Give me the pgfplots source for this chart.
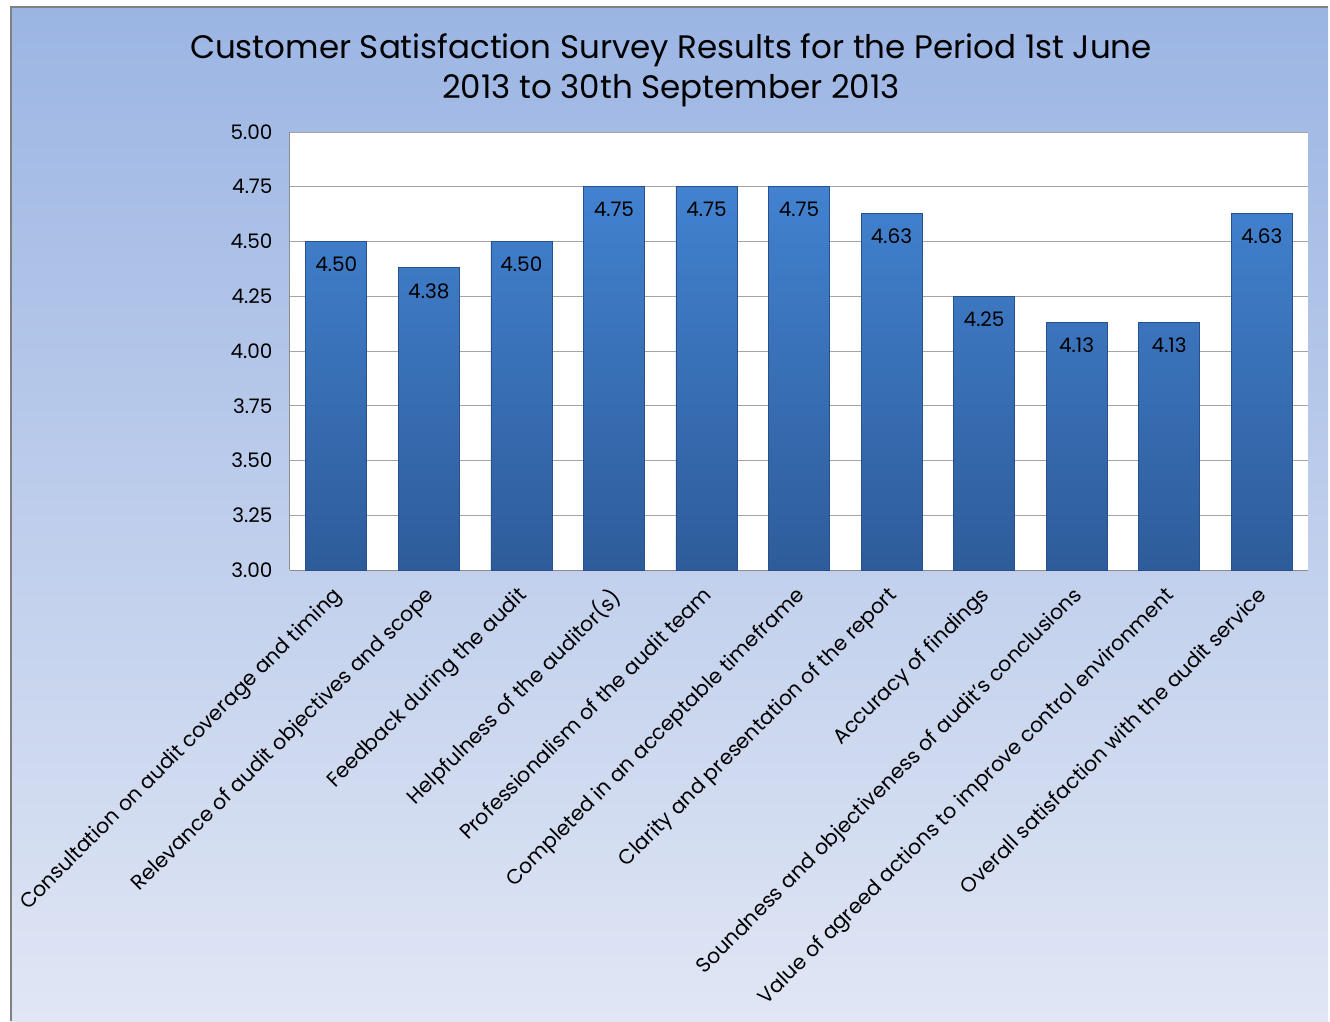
\documentclass[border=0pt]{standalone}
\usepackage{fontspec}
\setmainfont{Poppins}
\usepackage{pgfplots}
\pgfplotsset{compat=1.18}
\definecolor{bgtop}{RGB}{155,181,227}
\definecolor{bgbot}{RGB}{224,230,244}
\definecolor{bartop}{RGB}{66,130,208}
\definecolor{barbot}{RGB}{46,92,154}
\definecolor{baredge}{RGB}{40,80,140}
\definecolor{gridc}{RGB}{165,165,165}
\definecolor{axc}{RGB}{140,140,140}
\begin{document}
\begin{tikzpicture}
\useasboundingbox (-290pt,-451pt) rectangle (1040pt,570pt);
\fill[white] (-290pt,-451pt) rectangle (1040pt,570pt);
\shade[top color=bgtop, bottom color=bgbot] (-279pt,-451pt) rectangle (1038pt,563pt);
\draw[gray, line width=1.5pt] (-279pt,-451pt) -- (-279pt,563pt) -- (1038pt,563pt);
\node[align=center, font=\fontsize{32.5}{40}\selectfont] at (381pt,500pt) {Customer Satisfaction Survey Results for the Period 1st June\\2013 to 30th September 2013};
\begin{axis}[
  at={(0pt,0pt)}, anchor=south west,
  scale only axis, width=1018pt, height=438pt,
  axis background/.style={fill=white},
  ymin=3, ymax=5, ytick={3,3.25,3.5,3.75,4,4.25,4.5,4.75,5},
  xmin=-0.5, xmax=10.5, enlarge x limits=false,
  xtick={0,...,10},
  xticklabels={Consultation on audit coverage and timing,Relevance of audit objectives and scope,Feedback during the audit,Helpfulness of the auditor(s),Professionalism of the audit team,Completed in an acceptable timeframe,Clarity and presentation of the report,Accuracy of findings,Soundness and objectiveness of audit's conclusions,Value of agreed actions to improve control environment,Overall satisfaction with the audit service},
  /pgf/number format/assume math mode=true,
  yticklabel={\pgfmathprintnumber[fixed,fixed zerofill,precision=2]{\tick}},
  yticklabel style={font=\fontsize{20}{24}\selectfont, xshift=-14pt},
  xticklabel style={font=\fontsize{20.6}{24}\selectfont, xshift=-5pt, yshift=-15pt, rotate=45, anchor=north east, inner sep=0pt},
  major tick length=0pt,
  ymajorgrids, grid style={gridc, line width=0.8pt},
  axis x line*=bottom, axis y line*=left,
  axis line style={axc, line width=1pt},
  ybar, bar width=61pt,
  nodes near coords={\pgfmathprintnumber[fixed,fixed zerofill,precision=2]{\pgfplotspointmeta}},
  every node near coord/.append style={font=\fontsize{20}{24}\selectfont, anchor=north, yshift=-12pt, black},
]
\addplot[top color=bartop, bottom color=barbot, draw=baredge, line width=0.6pt] coordinates {
(0,4.50) (1,4.38) (2,4.50) (3,4.75) (4,4.75) (5,4.75) (6,4.63) (7,4.25) (8,4.13) (9,4.13) (10,4.63)};
\end{axis}
\end{tikzpicture}
\end{document}
